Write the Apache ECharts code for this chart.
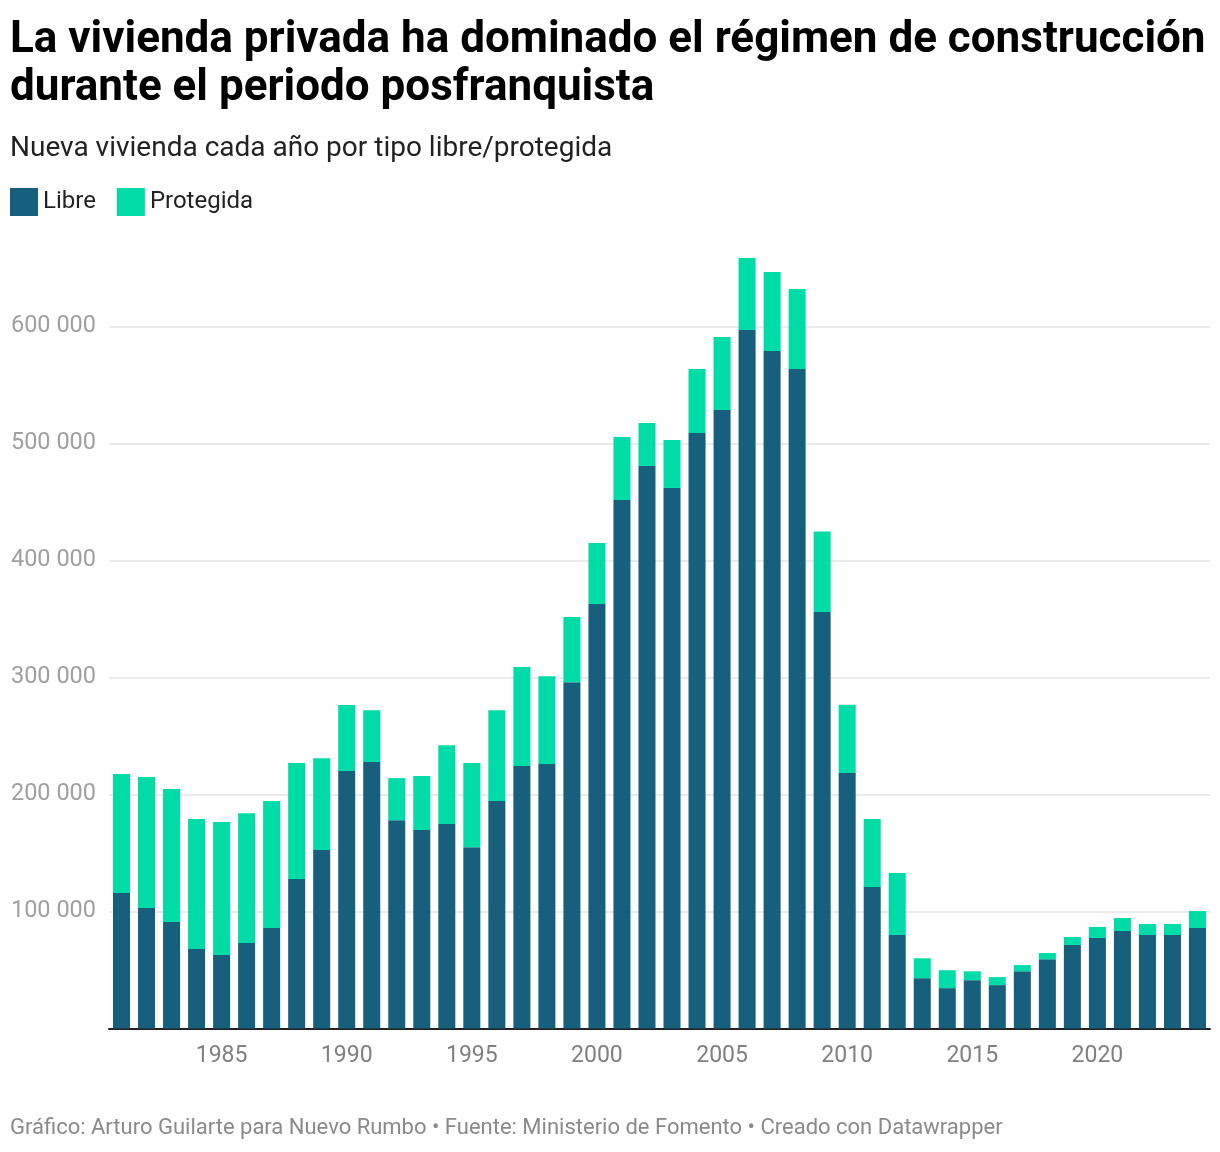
<!DOCTYPE html>
<html>
<head>
<meta charset="utf-8">
<script src="https://cdn.jsdelivr.net/npm/echarts@6/dist/echarts.min.js"></script>
<style>
html,body{margin:0;padding:0;background:#fff;}
#chart{width:1220px;height:1152px;}
</style>
</head>
<body>
<div id="chart"></div>
<script>
const titleText = 'La vivienda privada ha dominado el régimen de construcción\ndurante el periodo posfranquista';
const subtitleText = 'Nueva vivienda cada año por tipo libre/protegida';
const footerText = 'Gráfico: Arturo Guilarte para Nuevo Rumbo • Fuente: Ministerio de Fomento • Creado con Datawrapper';
const seriesNames = ['Libre', 'Protegida'];

const years = ['1981','1982','1983','1984','1985','1986','1987','1988','1989','1990',
  '1991','1992','1993','1994','1995','1996','1997','1998','1999','2000',
  '2001','2002','2003','2004','2005','2006','2007','2008','2009','2010',
  '2011','2012','2013','2014','2015','2016','2017','2018','2019','2020',
  '2021','2022','2023','2024'];

const libre = [115800, 103000, 91000, 68000, 62800, 73000, 86000, 127800, 152600, 220000,
  227800, 178000, 169700, 174800, 155000, 194400, 224400, 226000, 296000, 362800,
  451700, 480800, 462000, 509000, 528600, 597000, 579000, 563700, 356000, 218400,
  121000, 80000, 43000, 34500, 41300, 37100, 48900, 59200, 71400, 77400,
  83300, 79900, 79900, 85900];

const protegida = [101700, 112000, 113700, 111000, 113700, 111000, 108400, 99200, 78400, 56500,
  44200, 36000, 46100, 67200, 72000, 77600, 84600, 75000, 55700, 52200,
  53900, 36700, 41000, 54700, 62400, 61500, 67600, 68300, 68700, 58300,
  58000, 53000, 17000, 15300, 7600, 6800, 5300, 5300, 6800, 9400,
  11100, 9400, 9400, 14500];

const yTicks = [0, 100000, 200000, 300000, 400000, 500000, 600000, 700000];
const xTickYears = ['1985','1990','1995','2000','2005','2010','2015','2020'];

const colors = ['#17607d', '#00dca7'];
const FONT = 'Roboto';

const chart = echarts.init(document.getElementById('chart'), null, {renderer: 'canvas'});
chart.setOption({
  animation: false,
  backgroundColor: '#ffffff',
  color: colors,
  title: [
    {text: titleText, left: 10, top: 17, padding: 0,
     textStyle: {fontFamily: FONT, fontSize: 44, fontWeight: 'bold', color: '#000', lineHeight: 48}},
    {text: subtitleText, left: 10, top: 132, padding: 0,
     textStyle: {fontFamily: FONT, fontSize: 28, fontWeight: 'normal', color: '#222', lineHeight: 34}},
    {text: footerText, left: 10, top: 1115, padding: 0,
     textStyle: {fontFamily: FONT, fontSize: 22, fontWeight: 'normal', color: '#8a8a8a', lineHeight: 26}}
  ],
  legend: {
    data: seriesNames,
    left: 10, top: 188, padding: 0,
    icon: 'rect', itemWidth: 28, itemHeight: 28, itemGap: 21,
    textStyle: {fontFamily: FONT, fontSize: 24, color: '#222'},
    selectedMode: false
  },
  grid: {left: 109, right: 10, top: 209.5, bottom: 123.5, containLabel: false},
  xAxis: {
    type: 'category',
    data: years,
    boundaryGap: true,
    axisTick: {show: false},
    axisLine: {show: true, lineStyle: {color: '#222', width: 2}},
    axisLabel: {
      fontFamily: FONT, fontSize: 23, color: '#808080', margin: 16,
      interval: function (idx, val) { return xTickYears.indexOf(val) >= 0; }
    },
    splitLine: {show: false}
  },
  yAxis: {
    type: 'value',
    min: yTicks[0], max: yTicks[yTicks.length - 1], interval: yTicks[1] - yTicks[0],
    axisLine: {show: false},
    axisTick: {show: false},
    axisLabel: {
      fontFamily: FONT, fontSize: 23.5, color: '#a0a0a0', margin: 13,
      showMinLabel: false, showMaxLabel: false, padding: [3, 0, 0, 0],
      formatter: function (v) { return String(v).replace(/\B(?=(\d{3})+(?!\d))/g, ' '); }
    },
    splitLine: {show: true, showMinLine: false, showMaxLine: false, lineStyle: {color: '#e5e5e5', width: 1.5}}
  },
  series: [
    {name: seriesNames[0], type: 'bar', stack: 'total', data: libre, barCategoryGap: '32%',
     itemStyle: {color: colors[0]}},
    {name: seriesNames[1], type: 'bar', stack: 'total', data: protegida, barCategoryGap: '32%',
     itemStyle: {color: colors[1]}}
  ]
});
</script>
</body>
</html>
